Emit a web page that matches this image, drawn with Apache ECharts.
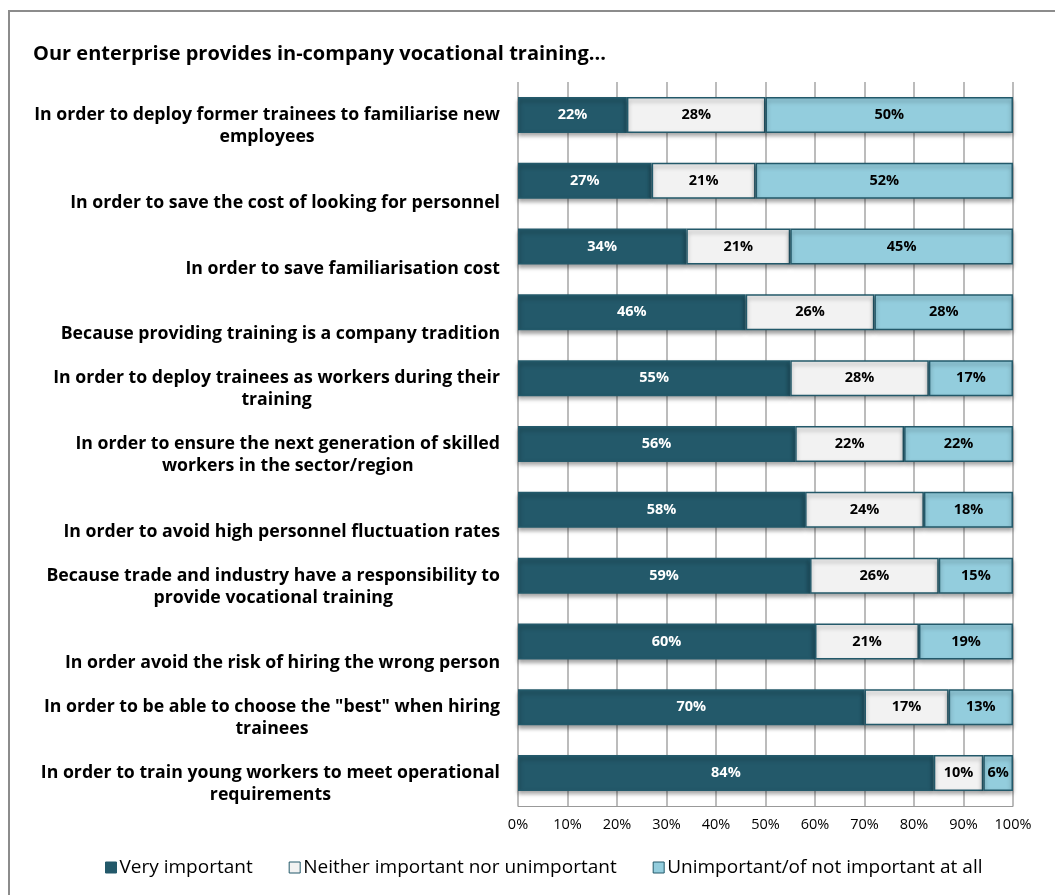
<!DOCTYPE html>
<html>
<head>
<meta charset="utf-8">
<script src="https://cdn.jsdelivr.net/npm/echarts@6/dist/echarts.min.js"></script>
<style>
  html, body { margin: 0; padding: 0; background: #fff; }
  #chart { width: 1055px; height: 895px; }
</style>
</head>
<body>
<div id="chart"></div>
<script>
// categories (top to bottom)
var categories = [
    'In order to deploy former trainees to familiarise new\nemployees',
    'In order to save the cost of looking for personnel',
    'In order to save familiarisation cost',
    'Because providing training is a company tradition',
    'In order to deploy trainees as workers during their\ntraining',
    'In order to ensure the next generation of skilled\nworkers in the sector/region',
    'In order to avoid high personnel fluctuation rates',
    'Because trade and industry have a responsibility to\nprovide vocational training',
    'In order avoid the risk of hiring the wrong person',
    'In order to be able to choose the "best" when hiring\ntrainees',
    'In order to train young workers to meet operational\nrequirements'
];
var veryImportant = [22, 27, 34, 46, 55, 56, 58, 59, 60, 70, 84];
var neither = [28, 21, 21, 26, 28, 22, 24, 26, 21, 17, 10];
var unimportant = [50, 52, 45, 28, 17, 22, 18, 15, 19, 13, 6];
var seriesNames = ['Very important', 'Neither important nor unimportant', 'Unimportant/of not important at all'];
var xTicks = [0, 10, 20, 30, 40, 50, 60, 70, 80, 90, 100];

var FONT = '"Open Sans", Lato, sans-serif';
var myChart = echarts.init(document.getElementById('chart'));

function seg(name, data, color, labelColor) {
    return {
        name: name,
        type: 'bar',
        stack: 'total',
        barWidth: 36,
        data: data,
        itemStyle: {
            color: color,
            borderColor: '#23596a',
            borderWidth: 1.5,
            shadowColor: 'rgba(0,0,0,0.35)',
            shadowBlur: 4,
            shadowOffsetY: 3
        },
        label: {
            show: true,
            position: 'inside',
            formatter: '{c}%',
            color: labelColor,
            fontFamily: FONT,
            fontWeight: 'bold',
            fontSize: 14.5
        }
    };
}

var option = {
    animation: false,
    title: {
        text: 'Our enterprise provides in-company vocational training...',
        left: 28,
        top: 39,
        textStyle: { fontFamily: FONT, fontWeight: 'bold', fontSize: 20, color: '#000' }
    },
    graphic: [{
        type: 'rect',
        shape: { x: 9, y: 11, width: 1100, height: 1000 },
        style: { fill: 'none', stroke: '#8c8c8c', lineWidth: 2 },
        silent: true
    }],
    legend: {
        bottom: 13,
        left: 100,
        itemGap: 36,
        itemWidth: 11,
        itemHeight: 11,
        icon: 'rect',
        textStyle: { fontFamily: FONT, fontSize: 19, color: '#000', padding: [0, 0, 0, -2] },
        data: seriesNames.map(function (n, i) {
            return { name: n, itemStyle: { borderColor: '#23596a', borderWidth: 1 } };
        })
    },
    grid: { left: 518, right: 42, top: 82, bottom: 89 },
    xAxis: {
        type: 'value',
        min: 0,
        max: 100,
        interval: 10,
        axisLine: { show: true, lineStyle: { color: '#999' } },
        axisTick: { show: false },
        splitLine: { show: true, lineStyle: { color: '#a6a6a6', width: 1.5 } },
        axisLabel: {
            formatter: function (v) { return xTicks.indexOf(v) >= 0 ? v + '%' : ''; },
            fontFamily: FONT,
            fontSize: 14.5,
            color: '#000',
            margin: 11
        }
    },
    yAxis: {
        type: 'category',
        inverse: true,
        data: categories,
        axisLine: { show: false },
        axisTick: { show: false },
        axisLabel: {
            margin: 18,
            padding: [22, 0, 0, 0],
            formatter: function (v) {
                var lines = v.split('\n');
                if (lines.length === 1) lines.unshift(' ');
                return lines.map(function (l) { return '{c|' + l + '}'; }).join('\n');
            },
            rich: {
                c: {
                    align: 'center',
                    fontFamily: FONT,
                    fontWeight: 'bold',
                    fontSize: 17.7,
                    lineHeight: 22,
                    color: '#000'
                }
            }
        }
    },
    series: [
        seg(seriesNames[0], veryImportant, '#23596a', '#fff'),
        seg(seriesNames[1], neither, '#f2f2f2', '#000'),
        seg(seriesNames[2], unimportant, '#93cddd', '#000')
    ]
};

myChart.setOption(option);
</script>
</body>
</html>
